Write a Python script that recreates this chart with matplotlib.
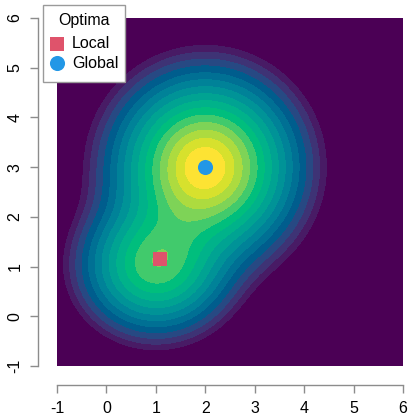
import numpy as np
import matplotlib
matplotlib.use("Agg")
import matplotlib.pyplot as plt
from matplotlib.patches import Rectangle

plt.rcParams["font.family"] = ["Liberation Sans", "DejaVu Sans"]

# Surface: mixture of a global and a local Gaussian bump
peak_centers = [(2.0, 3.0), (1.0, 1.02)]
peak_heights = [1.0, 0.56]
peak_widths = [(0.90, 0.90), (0.745, 0.677)]

# Depth shown by the filled contours: -sqrt(round^2 - 2 log(z / max z))
round_top = 0.50
outer_level = -2.768
top_level = -0.669
n_bands = 16

# Optima marked on the surface
local_opt = (1.08, 1.16)
global_opt = (2.0, 3.0)

axis_range = (-1, 6)
tick_values = [-1, 0, 1, 2, 3, 4, 5, 6]
legend_title = "Optima"
legend_labels = ["Local", "Global"]
local_color = "#DF536B"
global_color = "#2297E6"

W, H = 409, 416


def hcl_to_hex(h, c, l):
    """Convert polar LUV (HCL) to an sRGB hex string, D65 white."""
    Xn, Yn, Zn = 95.047, 100.0, 108.883
    hr = np.deg2rad(h)
    u = c * np.cos(hr)
    v = c * np.sin(hr)
    Y = Yn * (((l + 16) / 116) ** 3 if l > 8 else l / 903.3)
    un = 4 * Xn / (Xn + 15 * Yn + 3 * Zn)
    vn = 9 * Yn / (Xn + 15 * Yn + 3 * Zn)
    up = u / (13 * l) + un
    vp = v / (13 * l) + vn
    X = 9.0 * Y * up / (4 * vp)
    Z = -X / 3 - 5 * Y + 3 * Y / vp
    X, Y, Z = X / 100, Y / 100, Z / 100
    r = 3.240479 * X - 1.537150 * Y - 0.498535 * Z
    g = -0.969256 * X + 1.875992 * Y + 0.041556 * Z
    b = 0.055648 * X - 0.204043 * Y + 1.057311 * Z

    def gam(t):
        t = min(max(t, 0.0), 1.0)
        return 12.92 * t if t <= 0.0031308 else 1.055 * t ** (1 / 2.4) - 0.055

    return "#%02X%02X%02X" % tuple(int(round(255 * gam(t))) for t in (r, g, b))


def viridis_hcl(n):
    h1, h2, c1, c2, l1, l2, p1, p2 = 300, 75, 40, 95, 15, 90, 1.0, 1.1
    out = []
    for i in np.linspace(1, 0, n):
        h = h2 - (h2 - h1) * i
        c = c2 - (c2 - c1) * i ** p1
        l = l2 - (l2 - l1) * i ** p2
        out.append(hcl_to_hex(h, c, l))
    return out


gx = np.linspace(axis_range[0], axis_range[1], 560)
gy = np.linspace(axis_range[0], axis_range[1], 560)
X, Y = np.meshgrid(gx, gy)
Z = np.zeros_like(X)
for (cx, cy), hgt, (sx, sy) in zip(peak_centers, peak_heights, peak_widths):
    Z += hgt * np.exp(-((X - cx) ** 2 / (2 * sx ** 2) + (Y - cy) ** 2 / (2 * sy ** 2)))
D = -np.sqrt(round_top ** 2 - 2 * np.log(Z / Z.max()))

inner = np.linspace(outer_level, top_level, n_bands - 1)
levels = np.concatenate([[D.min() - 1], inner, [0.0]])
colors = viridis_hcl(n_bands)

fig = plt.figure(figsize=(W / 100, H / 100), dpi=100)
ax = fig.add_axes([57 / W, 50 / H, 346 / W, 348 / H])
ax.contourf(X, Y, D, levels=levels, colors=colors, antialiased=False)
ax.set_xlim(*axis_range)
ax.set_ylim(*axis_range)

ax.scatter([local_opt[0]], [local_opt[1]], marker="s", s=112, color=local_color,
           linewidths=0, zorder=5)
ax.scatter([global_opt[0]], [global_opt[1]], marker="o", s=118, color=global_color,
           linewidths=0, zorder=5)

for side in ("top", "right"):
    ax.spines[side].set_visible(False)
for side in ("left", "bottom"):
    ax.spines[side].set_position(("outward", 14))
    ax.spines[side].set_color("#8c8c8c")
    ax.spines[side].set_linewidth(1.0)
ax.set_xticks(tick_values)
ax.set_yticks(tick_values)
ax.set_xticklabels([str(t) for t in tick_values])
ax.set_yticklabels([str(t) for t in tick_values], rotation=90, va="center")
ax.tick_params(axis="both", direction="out", length=6, width=1.0, color="#8c8c8c",
               labelsize=11.5, pad=5)

# Legend box, drawn in figure pixel coordinates (origin top-left)
def fx(px):
    return px / W


def fy(py):
    return 1 - py / H


fig.patches.append(Rectangle((fx(43), fy(82)), fx(125) - fx(43), fy(5) - fy(82),
                             transform=fig.transFigure, facecolor="white",
                             edgecolor="#9a9a9a", linewidth=1.0, zorder=10))
fig.text(fx(84), fy(21), legend_title, ha="center", va="center", fontsize=11.5,
         zorder=11)
marker_styles = [("s", local_color, 112), ("o", global_color, 118)]
for (mk, col, sz), lab, py in zip(marker_styles, legend_labels, [44, 63]):
    fig.text(fx(72), fy(py), lab, ha="left", va="center", fontsize=11.5, zorder=11)
    mark_ax = fig.add_axes([fx(49), fy(py + 8), 16 / W, 16 / H], zorder=12)
    mark_ax.set_axis_off()
    mark_ax.set_xlim(0, 1)
    mark_ax.set_ylim(0, 1)
    mark_ax.scatter([0.5], [0.5], marker=mk, s=sz, color=col, linewidths=0)

fig.savefig("out.png", dpi=100)
